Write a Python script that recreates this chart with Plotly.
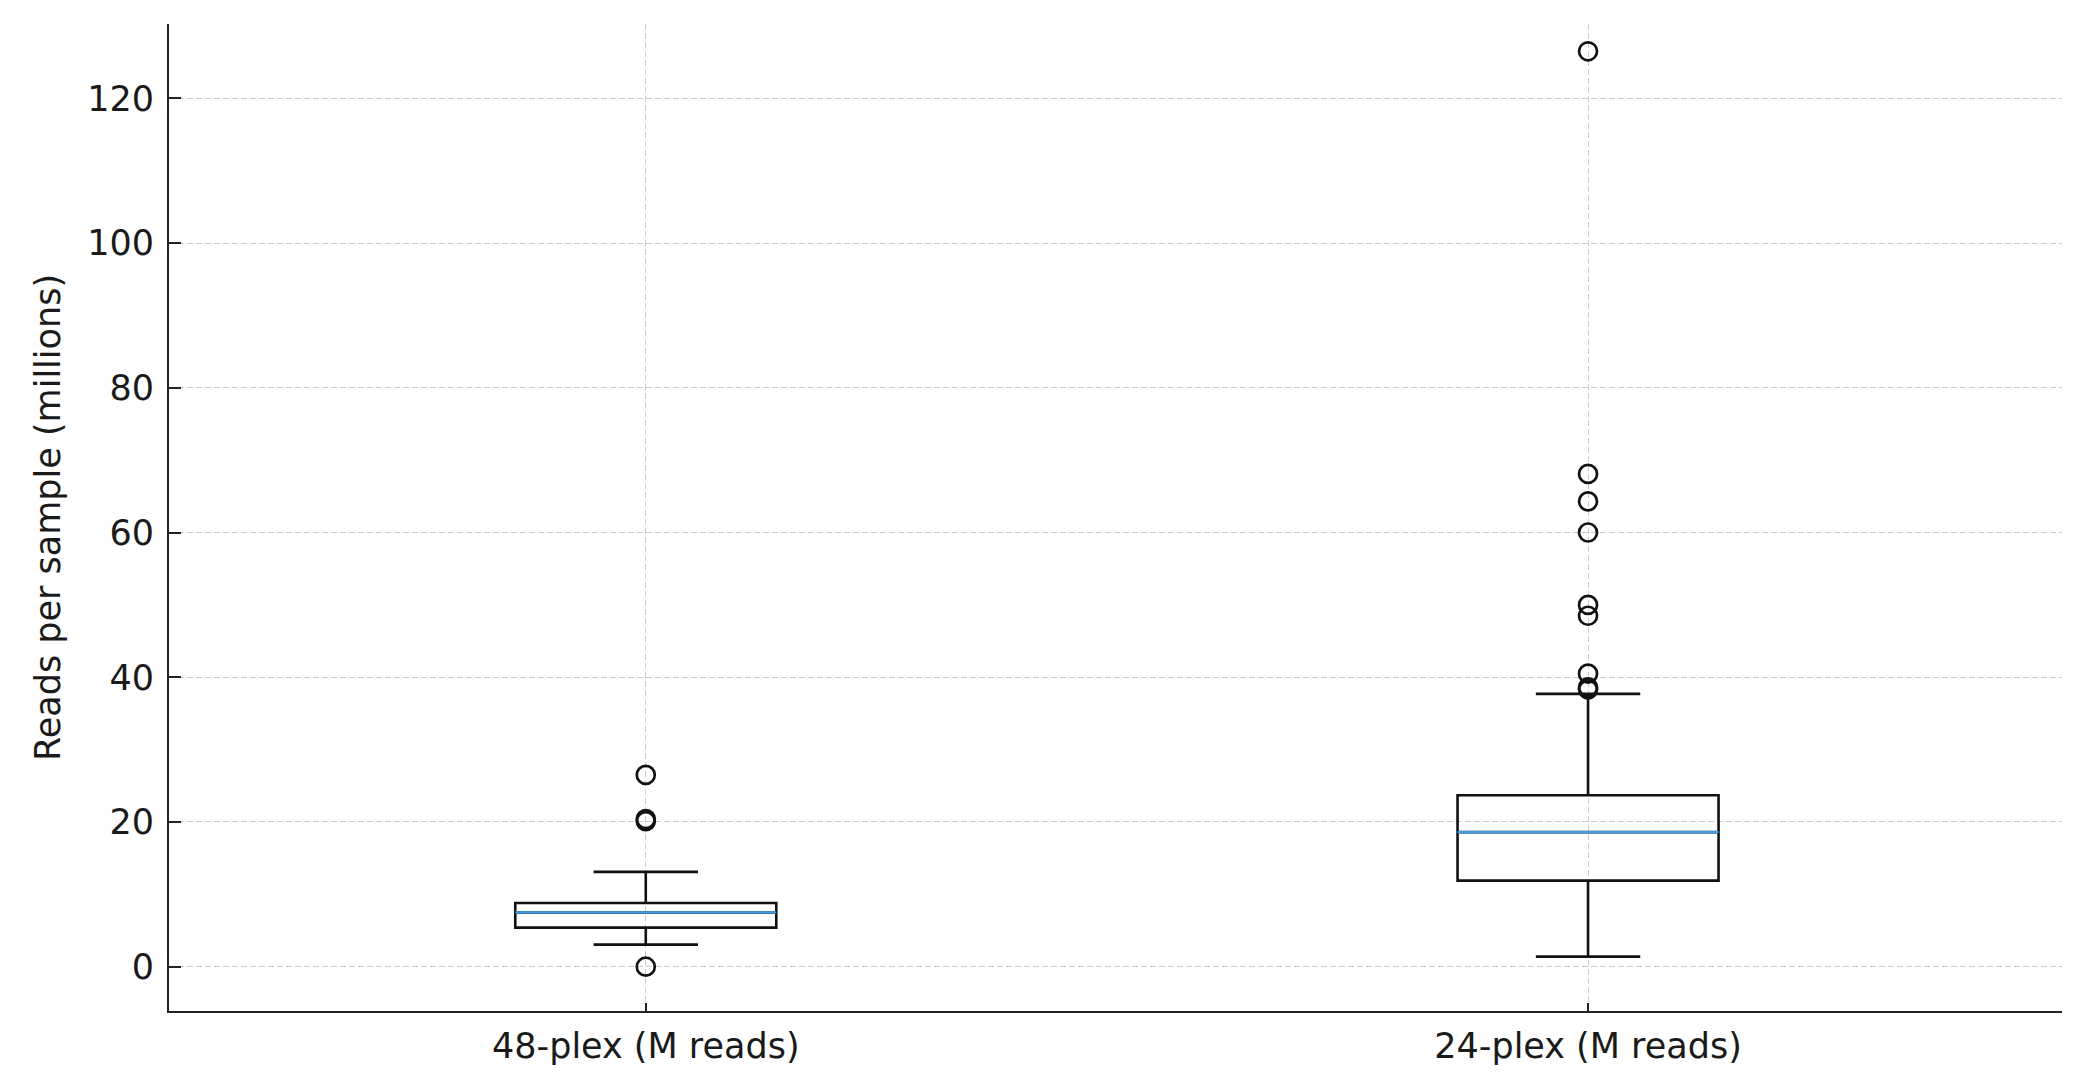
import plotly.graph_objects as go

# ---- data (millions of reads per sample) ----
categories = ["48-plex (M reads)", "24-plex (M reads)"]
positions = [1, 2]
q1_vals = [5.4, 11.9]
median_vals = [7.5, 18.6]
q3_vals = [8.8, 23.7]
lower_whisker = [3.05, 1.4]
upper_whisker = [13.1, 37.7]
outliers_48 = [26.5, 20.4, 20.1, 0.0]
outliers_24 = [126.5, 68.1, 64.3, 60.0, 50.0, 48.5, 40.5, 38.6, 38.3]
y_ticks = [0, 20, 40, 60, 80, 100, 120]

# ---- styles ----
BOX_W = 0.277
BLACK = "#111111"
MEDIAN_BLUE = "#3d9fea"
FONT = "DejaVu Sans"

fig = go.Figure()

fig.add_trace(go.Box(
    x=positions,
    q1=q1_vals, median=median_vals, q3=q3_vals,
    lowerfence=lower_whisker, upperfence=upper_whisker,
    width=BOX_W, whiskerwidth=0.4,
    line=dict(color=BLACK, width=2.6),
    fillcolor="rgba(0,0,0,0)",
    boxpoints=False, showlegend=False, hoverinfo="skip",
))

# blue median lines drawn over the black box median
for p, m in zip(positions, median_vals):
    fig.add_trace(go.Scatter(
        x=[p - BOX_W / 2, p + BOX_W / 2], y=[m, m], mode="lines",
        line=dict(color=MEDIAN_BLUE, width=2.2),
        showlegend=False, hoverinfo="skip",
    ))

for p, vals in zip(positions, [outliers_48, outliers_24]):
    fig.add_trace(go.Scatter(
        x=[p] * len(vals), y=vals, mode="markers",
        marker=dict(symbol="circle-open", size=18, color=BLACK,
                    line=dict(color=BLACK, width=2.7)),
        showlegend=False, hoverinfo="skip",
    ))

grid = dict(showgrid=True, gridcolor="#cccccc", gridwidth=1, griddash="6px,3px")

fig.update_layout(
    width=2081, height=1077,
    margin=dict(l=169, r=19, t=24, b=66),
    paper_bgcolor="white", plot_bgcolor="white",
    font=dict(family=FONT, color="#1a1a1a"),
    xaxis=dict(
        range=[0.494, 2.503], tickvals=positions, ticktext=categories,
        ticks="inside", ticklen=8, tickwidth=2, tickcolor="#222222",
        showline=True, linecolor="#222222", linewidth=2, mirror=False,
        zeroline=False, tickfont=dict(size=35, family=FONT),
        ticklabelstandoff=3,
        **grid,
    ),
    yaxis=dict(
        range=[-6.12, 130.27], tickvals=y_ticks,
        ticks="inside", ticklen=12, tickwidth=2, tickcolor="#222222",
        showline=True, linecolor="#222222", linewidth=2, mirror=False,
        zeroline=False, tickfont=dict(size=35, family=FONT),
        ticklabelstandoff=6,
        title=dict(text="Reads per sample (millions)", font=dict(size=35, family=FONT), standoff=16),
        **grid,
    ),
)

fig.write_html("out.html")
